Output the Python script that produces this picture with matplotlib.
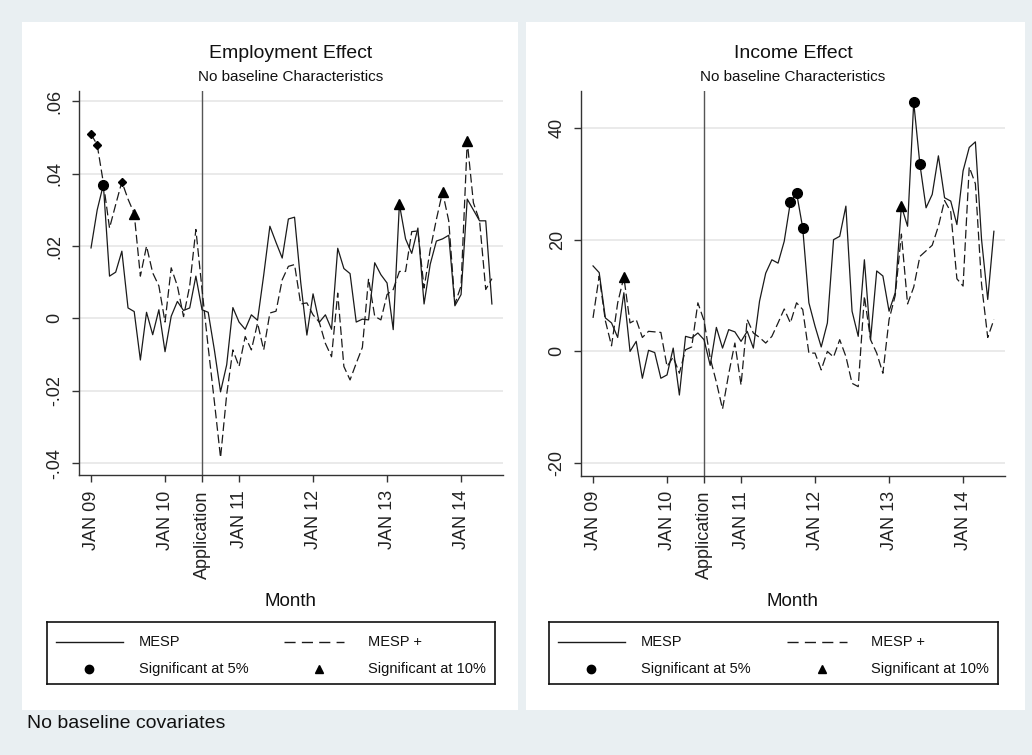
import matplotlib
matplotlib.use("Agg")
import matplotlib.pyplot as plt
from matplotlib.patches import Rectangle
import numpy as np

plt.rcParams['font.family'] = ['Liberation Sans', 'DejaVu Sans']

# monthly estimates, Jan 2009 .. Jun 2014
months = np.arange(66)
tick_months = [0, 12, 18, 24, 36, 48, 60]
tick_labels = ["JAN 09", "JAN 10", "Application", "JAN 11", "JAN 12", "JAN 13", "JAN 14"]
application_month = 18

emp_mesp = [0.0195, 0.030, 0.037, 0.0117, 0.0128, 0.0186, 0.0029, 0.0019, -0.0115, 0.0017,
            -0.0045, 0.0024, -0.0092, 0.0006, 0.0047, 0.0022, 0.0029, 0.0117, 0.0024, 0.0017,
            -0.0087, -0.0203, -0.0128, 0.003, -0.001, -0.003, 0.001, -0.0005, 0.012, 0.0255,
            0.021, 0.0167, 0.0275, 0.028, 0.010, -0.0046, 0.0068, -0.0011, 0.001, -0.003,
            0.0194, 0.0138, 0.0124, -0.001, -0.0002, -0.0004, 0.0154, 0.0121, 0.0098, -0.0031,
            0.0316, 0.022, 0.018, 0.025, 0.004, 0.015, 0.0214, 0.022, 0.023, 0.0035,
            0.0066, 0.033, 0.030, 0.027, 0.027, 0.004]
emp_mesp_plus = [0.051, 0.048, 0.0375, 0.025, 0.0315, 0.0378, 0.033, 0.029, 0.0117, 0.020,
                 0.0126, 0.009, -0.001, 0.014, 0.009, 0.0005, 0.009, 0.0246, 0.008, -0.008,
                 -0.023, -0.0385, -0.021, -0.0087, -0.0133, -0.005, -0.0087, -0.0013, -0.0087, 0.0015,
                 0.002, 0.0107, 0.0144, 0.0149, 0.004, 0.0043, 0.001, -0.001, -0.0069, -0.0106,
                 0.007, -0.0133, -0.017, -0.0124, -0.008, 0.011, 0.0006, -0.0004, 0.0066, 0.008,
                 0.013, 0.013, 0.024, 0.0242, 0.0084, 0.019, 0.0274, 0.035, 0.027, 0.004,
                 0.009, 0.049, 0.032, 0.027, 0.008, 0.011]
emp_sig5_mesp = [2]
emp_sig10_mesp = [50]
emp_sig5_plus = [0, 1, 5]
emp_sig10_plus = [7, 57, 61]

inc_mesp = [15.3, 14.1, 6.0, 5.1, 2.5, 10.5, 0.0, 1.8, -4.8, 0.2,
            -0.2, -4.8, -4.2, 0.6, -7.8, 2.7, 2.4, 3.3, 2.1, -2.5,
            4.3, 0.6, 3.9, 3.5, 1.8, 3.6, 0.6, 9.0, 14.0, 16.4,
            15.8, 19.7, 26.7, 28.4, 22.1, 8.7, 4.5, 0.8, 5.1, 20.0,
            20.6, 26.0, 7.2, 2.7, 16.4, 2.1, 14.4, 13.5, 7.2, 10.5,
            26.0, 22.4, 44.6, 33.5, 25.7, 28.1, 35.0, 27.5, 26.9, 22.7,
            32.3, 36.5, 37.5, 20.0, 9.3, 21.5]
inc_mesp_plus = [6.0, 13.5, 5.5, 1.0, 8.7, 13.3, 5.1, 5.7, 2.5, 3.6,
                 3.5, 3.4, -2.7, -1.0, -3.9, 0.3, 0.8, 8.7, 5.5, -1.2,
                 -5.5, -10.3, -4.0, 1.5, -6.0, 5.7, 3.3, 2.5, 1.5, 2.7,
                 5.1, 7.6, 5.1, 8.7, 7.5, -0.3, -0.3, -3.3, 0.0, -1.0,
                 2.1, -0.9, -5.7, -6.3, 9.9, 2.1, -0.3, -3.9, 5.7, 10.0,
                 21.0, 8.5, 11.5, 17.0, 18.0, 19.0, 22.4, 27.0, 25.0, 13.0,
                 11.7, 33.0, 30.0, 12.0, 2.5, 5.7]
inc_sig5_mesp = [32, 33, 34, 52, 53]
inc_sig10_mesp = [50]
inc_sig5_plus = []
inc_sig10_plus = [5]

emp_yticks = [-0.04, -0.02, 0, 0.02, 0.04, 0.06]
emp_ytick_labels = ["-.04", "-.02", "0", ".02", ".04", ".06"]
inc_yticks = [-20, 0, 20, 40]
inc_ytick_labels = ["-20", "0", "20", "40"]

BG = '#e9eff2'
INK = '#1a1a1a'
DASH = (0, (7, 3))

fig = plt.figure(figsize=(10.32, 7.55), dpi=100)
fig.patch.set_facecolor(BG)

# white panels behind each graph
for x0, w in [(22, 496), (526, 499)]:
    fig.patches.append(Rectangle((x0 / 1032, 45 / 755), w / 1032, 688 / 755,
                                 transform=fig.transFigure, facecolor='white',
                                 edgecolor='none', zorder=-10))


def draw_panel(rect, title, mesp, plus, sig5_m, sig10_m, sig5_p, sig10_p,
               yticks, ylabels, ylim, legend_rect):
    ax = fig.add_axes(rect)
    ax.set_facecolor('white')
    mesp = np.asarray(mesp)
    plus = np.asarray(plus)
    for y in yticks:
        ax.axhline(y, color='#e6e6e6', lw=1.2, zorder=0)
    ax.axvline(application_month, color='#555555', lw=1.0, zorder=1)
    ax.plot(months, mesp, color=INK, lw=0.9, zorder=3)
    ax.plot(months, plus, color=INK, lw=0.9, linestyle=DASH, zorder=3)
    if sig5_m:
        ax.plot(months[sig5_m], mesp[sig5_m], 'o', color='black', ms=7, zorder=4)
    if sig10_m:
        ax.plot(months[sig10_m], mesp[sig10_m], '^', color='black', ms=7, zorder=4)
    if sig5_p:
        ax.plot(months[sig5_p], plus[sig5_p], 'D', color='black', ms=4, zorder=4)
    if sig10_p:
        ax.plot(months[sig10_p], plus[sig10_p], '^', color='black', ms=7, zorder=4)

    ax.set_xlim(-1.95, 66.8)
    ax.set_ylim(*ylim)
    ax.set_xticks(tick_months)
    ax.set_xticklabels(tick_labels, rotation=90, fontsize=13, color='#222222')
    ax.set_yticks(yticks)
    ax.set_yticklabels(ylabels, rotation=90, fontsize=13, color='#222222')
    for lab in ax.get_yticklabels():
        lab.set_va('center')
    ax.tick_params(direction='out', length=5, width=1, color='#333333', pad=6)
    for s in ['top', 'right']:
        ax.spines[s].set_visible(False)
    for s in ['left', 'bottom']:
        ax.spines[s].set_color('#333333')
        ax.spines[s].set_linewidth(1)

    cx = rect[0] + rect[2] / 2
    fig.text(cx, 1 - 53 / 755, title, ha='center', va='center', fontsize=14, color='#111111')
    fig.text(cx, 1 - 77 / 755, "No baseline Characteristics", ha='center', va='center',
             fontsize=11, color='#111111')
    fig.text(cx, 1 - 601 / 755, "Month", ha='center', va='center', fontsize=13.5, color='#111111')

    # legend box
    lg = fig.add_axes(legend_rect)
    lg.set_xlim(0, 1)
    lg.set_ylim(0, 1)
    lg.set_xticks([])
    lg.set_yticks([])
    for s in lg.spines.values():
        s.set_color('#111111')
        s.set_linewidth(1.2)
    r1, r2 = 0.68, 0.25
    lg.plot([0.019, 0.169], [r1, r1], color=INK, lw=1.0)
    lg.plot([0.529, 0.663], [r1, r1], color=INK, lw=1.0, linestyle=(0, (8, 4.5)))
    lg.plot([0.094], [r2], 'o', color='black', ms=6)
    lg.plot([0.608], [r2], '^', color='black', ms=6)
    fs = 10.5
    lg.text(0.205, r1, "MESP", va='center', fontsize=fs, color='#111111')
    lg.text(0.717, r1, "MESP +", va='center', fontsize=fs, color='#111111')
    lg.text(0.205, r2, "Significant at 5%", va='center', fontsize=fs, color='#111111')
    lg.text(0.717, r2, "Significant at 10%", va='center', fontsize=fs, color='#111111')
    return ax


draw_panel([79 / 1032, 1 - 475 / 755, 424 / 1032, 384 / 755], "Employment Effect",
           emp_mesp, emp_mesp_plus, emp_sig5_mesp, emp_sig10_mesp, emp_sig5_plus, emp_sig10_plus,
           emp_yticks, emp_ytick_labels, (-0.0433, 0.0629),
           [47 / 1032, 1 - 684 / 755, 448 / 1032, 62 / 755])

draw_panel([581 / 1032, 1 - 475.5 / 755, 424 / 1032, 384.5 / 755], "Income Effect",
           inc_mesp, inc_mesp_plus, inc_sig5_mesp, inc_sig10_mesp, inc_sig5_plus, inc_sig10_plus,
           inc_yticks, inc_ytick_labels, (-22.2, 46.6),
           [549 / 1032, 1 - 684 / 755, 449 / 1032, 62 / 755])

fig.text(27 / 1032, 1 - 723 / 755, "No baseline covariates", ha='left', va='center',
         fontsize=14, color='#111111')

fig.savefig("out.png", dpi=100, facecolor=BG)
